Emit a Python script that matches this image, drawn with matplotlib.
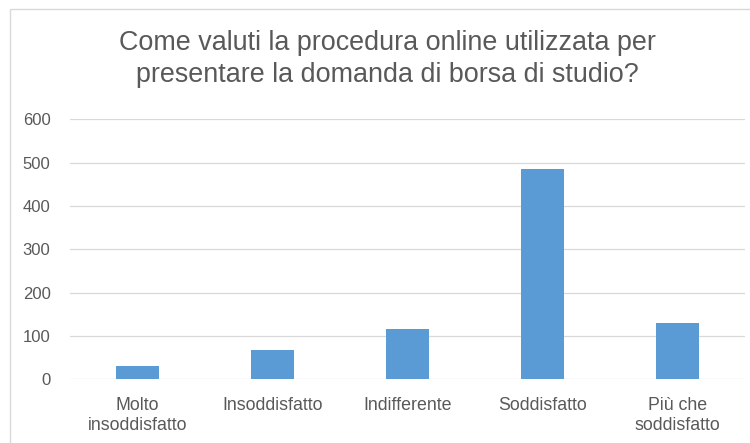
import matplotlib
matplotlib.use('Agg')
import matplotlib.pyplot as plt
from matplotlib.patches import Rectangle

# Dati
categorie = ['Molto\ninsoddisfatto', 'Insoddisfatto', 'Indifferente',
             'Soddisfatto', 'Più che\nsoddisfatto']
valori = [31, 68, 116, 485, 130]
yticks = [0, 100, 200, 300, 400, 500, 600]
titolo = 'Come valuti la procedura online utilizzata per\npresentare la domanda di borsa di studio?'

plt.rcParams['font.family'] = ['Liberation Sans', 'DejaVu Sans']

grigio = '#595959'
fig = plt.figure(figsize=(7.5, 4.43), dpi=100)

# cornice del grafico (tagliata a destra e in basso)
fig.patches.append(Rectangle((10 / 750, -0.1), 1.2, 1 - 9 / 443 + 0.1,
                             transform=fig.transFigure, fill=False,
                             edgecolor='#d9d9d9', linewidth=1.0))

ax = fig.add_axes([70 / 750, 1 - 379.3 / 443, 675 / 750, 260 / 443])
x = range(len(categorie))
ax.bar(x, valori, width=0.315, color='#5b9bd5', zorder=3)
ax.set_xlim(-0.5, len(categorie) - 0.5)
ax.set_ylim(0, 600)
ax.set_yticks(yticks)
ax.set_xticks(list(x))
ax.set_xticklabels(categorie, color=grigio, fontsize=12.8, linespacing=1.2)
ax.tick_params(axis='y', colors=grigio, labelsize=12, length=0, pad=14)
ax.tick_params(axis='x', length=0, pad=13)
ax.grid(axis='y', color='#d9d9d9', linewidth=0.9, zorder=0)
for s in ax.spines.values():
    s.set_visible(False)

fig.text(387 / 750, 1 - 59 / 443, titolo, ha='center', va='center',
         fontsize=19.4, color=grigio, linespacing=1.3)

fig.savefig('out.png', dpi=100)
